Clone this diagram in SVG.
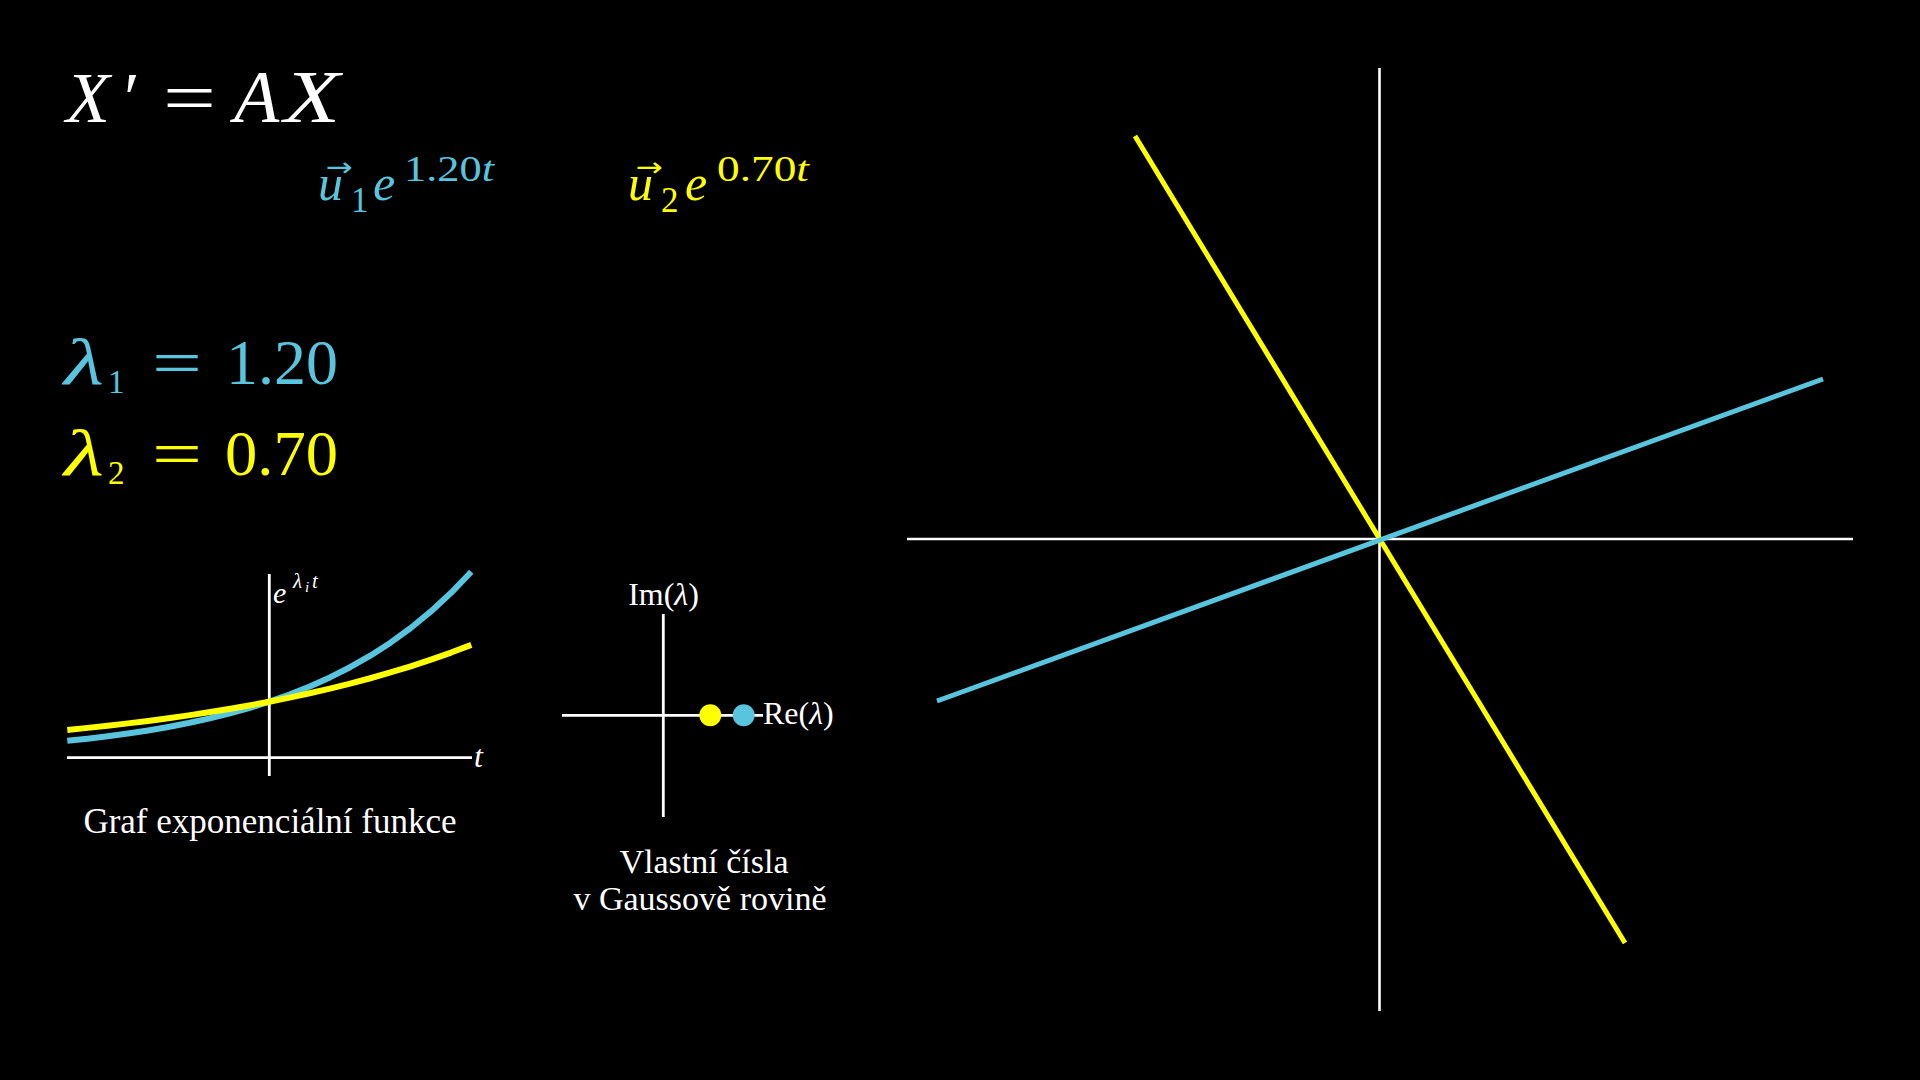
<svg xmlns="http://www.w3.org/2000/svg" width="1920" height="1080" viewBox="0 0 1920 1080">
<style>
.m{font-family:"Liberation Serif","Times New Roman",serif;}
.arr{font-family:"DejaVu Sans",sans-serif;font-size:26px;}
.i{font-style:italic;}
.w{fill:#ffffff;}
.b{fill:#58C4DD;}
.y{fill:#FFFF00;}
.ax{stroke:#ffffff;stroke-width:2.8;fill:none;}
.cb{stroke:#58C4DD;fill:none;stroke-linecap:butt;stroke-linejoin:round;}
.cy{stroke:#FFFF00;fill:none;stroke-linecap:butt;stroke-linejoin:round;}
</style>
<rect x="0" y="0" width="1920" height="1080" fill="#000000"/>

<g id="equation" class="m w">
  <text x="66" y="122" font-size="72" class="i">X</text>
  <text x="124" y="122" font-size="72">′</text>
  <text x="163" y="122" font-size="72" textLength="53" lengthAdjust="spacingAndGlyphs">=</text>
  <text x="234" y="122" font-size="74" class="i">A</text>
  <text x="284" y="122" font-size="74" class="i" textLength="56" lengthAdjust="spacingAndGlyphs">X</text>
</g>

<g id="solution-u1" class="m b">
  <text class="arr" x="326" y="176" textLength="27" lengthAdjust="spacingAndGlyphs">→</text>
  <text x="318" y="200" font-size="50" class="i">u</text>
  <text x="351" y="212" font-size="35">1</text>
  <text x="373" y="200" font-size="50" class="i">e</text>
  <text x="404" y="181" font-size="35" textLength="90" lengthAdjust="spacingAndGlyphs">1.20<tspan class="i">t</tspan></text>
</g>

<g id="solution-u2" class="m y">
  <text class="arr" x="636" y="176" textLength="27" lengthAdjust="spacingAndGlyphs">→</text>
  <text x="628" y="200" font-size="50" class="i">u</text>
  <text x="661" y="212" font-size="35">2</text>
  <text x="685" y="200" font-size="50" class="i">e</text>
  <text x="717" y="181" font-size="35" textLength="92" lengthAdjust="spacingAndGlyphs">0.70<tspan class="i">t</tspan></text>
</g>

<g id="lambda1" class="m b">
  <text x="64" y="384" font-size="66" class="i" textLength="40" lengthAdjust="spacingAndGlyphs">λ</text>
  <text x="108" y="393" font-size="33">1</text>
  <text x="152" y="384" font-size="64" textLength="50" lengthAdjust="spacingAndGlyphs">=</text>
  <text x="226" y="384" font-size="64" textLength="112" lengthAdjust="spacingAndGlyphs">1.20</text>
</g>

<g id="lambda2" class="m y">
  <text x="64" y="475" font-size="66" class="i" textLength="40" lengthAdjust="spacingAndGlyphs">λ</text>
  <text x="108" y="484" font-size="33">2</text>
  <text x="152" y="475" font-size="64" textLength="50" lengthAdjust="spacingAndGlyphs">=</text>
  <text x="225" y="475" font-size="64" textLength="113" lengthAdjust="spacingAndGlyphs">0.70</text>
</g>

<g id="exp-graph">
  <line class="ax" x1="67" y1="757.7" x2="472" y2="757.7"/>
  <line class="ax" x1="269.3" y1="574" x2="269.3" y2="776"/>
  <polyline class="cb" stroke-width="6" points="67.3,740.83 87.5,738.68 107.7,736.26 127.9,733.52 148.1,730.44 168.3,726.97 188.5,723.05 208.7,718.63 228.9,713.65 249.1,708.03 269.3,701.70 289.5,694.56 309.7,686.51 329.9,677.44 350.1,667.20 370.3,655.66 390.5,642.65 410.7,627.98 430.9,611.44 451.1,592.80 471.3,571.77"/>
  <polyline class="cy" stroke-width="6" points="67.3,729.89 87.5,727.87 107.7,725.71 127.9,723.39 148.1,720.91 168.3,718.24 188.5,715.38 208.7,712.31 228.9,709.01 249.1,705.49 269.3,701.70 289.5,697.64 309.7,693.28 329.9,688.61 350.1,683.61 370.3,678.23 390.5,672.47 410.7,666.29 430.9,659.66 451.1,652.55 471.3,644.93"/>
  <text class="m w i" x="273" y="603" font-size="30">e</text>
  <text class="m w i" x="293" y="588" font-size="21">λ</text>
  <text class="m w i" x="305" y="592" font-size="15">i</text>
  <text class="m w i" x="312" y="588" font-size="21">t</text>
  <text class="m w i" x="474" y="767" font-size="32">t</text>
  <text class="m w" x="270" y="833" font-size="35" text-anchor="middle">Graf exponenciální funkce</text>
</g>

<g id="eigen-plane">
  <line class="ax" x1="562" y1="715.3" x2="763" y2="715.3"/>
  <line class="ax" x1="663.3" y1="614" x2="663.3" y2="817"/>
  <circle cx="710.3" cy="715.3" r="11" fill="#FFFF00"/>
  <circle cx="743.7" cy="715.3" r="11" fill="#58C4DD"/>
  <text class="m w" x="663.5" y="605" font-size="32" text-anchor="middle">Im(<tspan class="i">λ</tspan>)</text>
  <text class="m w" x="763" y="724" font-size="32">Re(<tspan class="i">λ</tspan>)</text>
  <text class="m w" x="704" y="873" font-size="34" text-anchor="middle">Vlastní čísla</text>
  <text class="m w" x="700" y="910" font-size="34" text-anchor="middle">v Gaussově rovině</text>
</g>

<g id="phase-plane">
  <line x1="907" y1="539" x2="1853" y2="539" stroke="#ffffff" stroke-width="2.6"/>
  <line x1="1379.5" y1="68" x2="1379.5" y2="1011" stroke="#ffffff" stroke-width="2.6"/>
  <line x1="1135" y1="136" x2="1625" y2="943" stroke="#FFFF00" stroke-width="5"/>
  <line x1="937" y1="701" x2="1823" y2="379" stroke="#58C4DD" stroke-width="5"/>
</g>
</svg>
